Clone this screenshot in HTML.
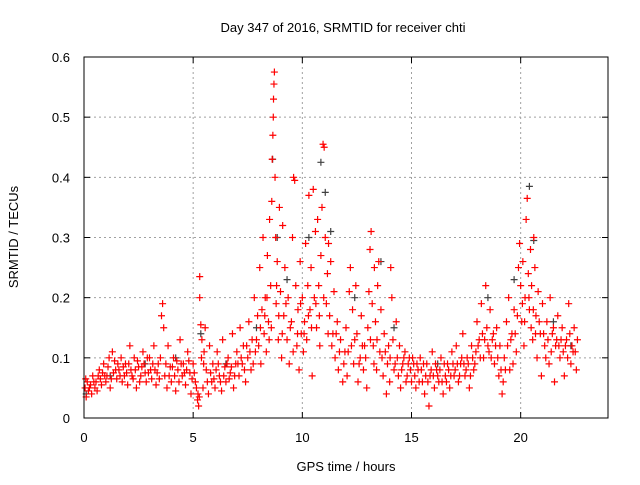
<!DOCTYPE html>
<html><head><meta charset="utf-8"><style>
body{margin:0;background:#fff}
svg text{font-family:"Liberation Sans",sans-serif;font-size:13px;fill:#000}
</style></head><body>
<svg id="chart" width="640" height="480" xmlns="http://www.w3.org/2000/svg">
<rect width="640" height="480" fill="#fff"/>
<g id="grid"></g>
<g id="marks"></g>
<rect x="84" y="57" width="524" height="361" fill="none" stroke="#000" stroke-width="1"/>
<g id="axes"></g>
<text x="343" y="32" text-anchor="middle">Day 347 of 2016, SRMTID for receiver chti</text>
<text x="346" y="471" text-anchor="middle">GPS time / hours</text>
<text x="0" y="0" text-anchor="middle" transform="translate(18,237) rotate(-90)">SRMTID / TECUs</text>
</svg>
<script>
const xTicks=[0,5,10,15,20];
const yTicks=[0,0.1,0.2,0.3,0.4,0.5,0.6];
const yTickLabels=["0","0.1","0.2","0.3","0.4","0.5","0.6"];
const redData=[[0.05,.05],[0.1,.035],[0.15,.06],[0.2,.045],[0.3,.055],[0.35,.04],[0.4,.07],[0.5,.05],[0.55,.06],[0.6,.045],[0.7,.08],[0.75,.065],[0.8,.055],[0.9,.09],[0.95,.07],
[1.0,.06],[1.1,.085],[1.2,.05],[1.3,.11],[1.35,.075],[1.4,.095],[1.5,.065],[1.6,.08],[1.7,.1],[1.75,.06],[1.85,.07],[1.9,.09],[2.0,.055],[2.1,.12],[2.15,.08],[2.25,.065],[2.3,.1],[2.4,.05],[2.5,.085],[2.6,.07],[2.7,.11],[2.75,.09],[2.85,.06],[2.95,.075],
[3.0,.1],[3.1,.065],[3.2,.12],[3.25,.08],[3.3,.055],[3.4,.09],[3.5,.1],[3.55,.17],[3.6,.19],[3.65,.15],[3.7,.07],[3.8,.05],[3.85,.12],[3.95,.085],[4.0,.06],[4.1,.1],[4.2,.045],[4.3,.08],[4.4,.13],[4.5,.07],[4.55,.09],[4.65,.055],[4.75,.11],[4.85,.075],[4.9,.04],[5.0,.09],[5.1,.06],
[5.2,.03],[5.25,.02],[5.3,.235],[5.3,.2],[5.35,.155],[5.4,.13],[5.45,.05],[5.5,.11],[5.55,.15],[5.6,.08],[5.7,.04],[5.75,.12],[5.85,.06],[5.9,.09],[6.0,.05],[6.1,.11],[6.2,.07],[6.3,.045],[6.35,.13],[6.45,.085],[6.5,.06],[6.6,.1],[6.7,.075],[6.8,.14],[6.85,.05],[6.95,.09],
[7.0,.11],[7.1,.07],[7.15,.15],[7.25,.09],[7.3,.12],[7.4,.06],[7.5,.1],[7.55,.16],[7.65,.08],[7.7,.13],[7.8,.2],[7.85,.11],[7.95,.17],
[8.0,.12],[8.05,.25],[8.1,.09],[8.15,.18],[8.2,.3],[8.25,.14],[8.3,.2],[8.35,.11],[8.4,.27],[8.45,.16],[8.5,.33],[8.55,.22],[8.6,.36],[8.62,.43],[8.65,.47],[8.67,.5],[8.68,.53],[8.7,.555],[8.72,.575],[8.75,.4],[8.78,.3],[8.8,.19],[8.85,.26],[8.9,.13],[8.95,.35],[9.0,.21],[9.05,.1],[9.1,.32],[9.15,.17],[9.2,.25],[9.3,.13],[9.35,.2],[9.4,.09],[9.5,.16],[9.55,.3],[9.6,.4],[9.65,.395],[9.7,.22],[9.75,.12],[9.8,.18],[9.85,.08],[9.9,.26],[9.95,.14],
[10.0,.2],[10.05,.11],[10.1,.16],[10.15,.29],[10.2,.13],[10.25,.22],[10.3,.37],[10.35,.18],[10.4,.25],[10.45,.07],[10.5,.38],[10.55,.2],[10.6,.31],[10.65,.15],[10.7,.33],[10.75,.22],[10.8,.12],[10.85,.27],[10.9,.35],[10.95,.455],[11.0,.45],[11.05,.3],[11.1,.19],[11.15,.24],[11.2,.29],[11.25,.17],[11.3,.26],[11.4,.14],[11.45,.21],[11.5,.1],[11.6,.16],[11.65,.08],[11.75,.13],[11.85,.06],[11.95,.11],
[12.0,.15],[12.05,.07],[12.15,.21],[12.2,.25],[12.25,.12],[12.3,.18],[12.35,.09],[12.45,.22],[12.5,.14],[12.55,.06],[12.65,.1],[12.7,.17],[12.8,.08],[12.85,.12],[12.95,.05],[13.0,.15],[13.05,.21],[13.1,.28],[13.15,.31],[13.2,.19],[13.25,.12],[13.3,.25],[13.35,.16],[13.4,.08],[13.45,.22],[13.5,.26],[13.55,.11],[13.6,.18],[13.7,.07],[13.75,.14],[13.85,.04],[13.9,.09],[13.95,.12],
[14.0,.06],[14.05,.25],[14.1,.2],[14.15,.13],[14.2,.08],[14.3,.16],[14.35,.1],[14.45,.12],[14.5,.05],[14.6,.09],[14.7,.11],[14.8,.07],[14.9,.1],[15.0,.06],[15.1,.09],[15.2,.05],[15.3,.08],[15.4,.1],[15.5,.06],[15.6,.04],[15.7,.09],[15.8,.02],[15.85,.07],[15.95,.11],[16.05,.05],[16.15,.08],[16.25,.06],[16.35,.1],[16.45,.04],[16.55,.07],[16.65,.09],[16.75,.05],[16.85,.11],[16.95,.07],
[17.05,.12],[17.15,.06],[17.25,.09],[17.35,.14],[17.45,.07],[17.55,.1],[17.65,.05],[17.75,.12],[17.85,.08],[17.95,.11],[18.0,.16],[18.1,.13],[18.2,.19],[18.3,.1],[18.4,.22],[18.45,.15],[18.55,.11],[18.6,.18],[18.7,.13],[18.8,.09],[18.9,.15],[19.0,.07],[19.05,.12],[19.15,.04],[19.25,.1],[19.35,.16],[19.45,.2],[19.5,.08],[19.6,.14],[19.7,.18],[19.8,.11],[19.9,.25],[19.95,.29],
[20.0,.22],[20.05,.16],[20.1,.26],[20.15,.12],[20.2,.2],[20.25,.33],[20.3,.365],[20.35,.24],[20.4,.18],[20.45,.28],[20.5,.22],[20.55,.13],[20.6,.3],[20.65,.25],[20.7,.17],[20.75,.1],[20.8,.21],[20.9,.14],[20.95,.07],[21.0,.19],[21.1,.12],[21.2,.16],[21.3,.09],[21.35,.2],[21.45,.14],[21.55,.06],[21.6,.12],[21.7,.17],[21.8,.1],[21.9,.15],[22.0,.07],[22.1,.13],[22.2,.19],[22.3,.09],[22.4,.11],[22.45,.15],[22.55,.08],[22.6,.13]];
const redExtra=[[0.08,.065],[0.25,.05],[0.45,.06],[0.65,.07],[0.85,.075],[1.05,.07],[1.15,.1],[1.25,.065],[1.45,.08],[1.55,.09],[1.65,.07],[1.8,.085],[1.95,.075],[2.05,.09],[2.2,.07],[2.35,.08],[2.45,.095],[2.55,.06],[2.65,.085],[2.8,.075],[2.9,.1],
[3.05,.08],[3.15,.09],[3.35,.075],[3.45,.065],[3.75,.09],[3.9,.07],[4.05,.085],[4.15,.07],[4.25,.095],[4.35,.06],[4.45,.09],[4.6,.075],[4.7,.08],[4.8,.095],[4.95,.065],[5.05,.075],[5.15,.05],[5.22,.04],[5.28,.035],[5.38,.1],[5.48,.09],[5.65,.06],[5.8,.075],[5.95,.065],[6.05,.08],[6.15,.09],[6.25,.06],[6.4,.07],[6.55,.09],[6.65,.065],[6.75,.085],[6.9,.07],
[7.05,.09],[7.2,.1],[7.35,.08],[7.45,.12],[7.6,.11],[7.75,.09],[7.9,.13],[8.08,.15],[8.28,.17],[8.38,.2],[8.48,.13],[8.58,.15],[8.82,.22],[8.92,.17],[9.08,.14],[9.25,.19],[9.45,.15],[9.58,.11],[9.78,.14],[9.92,.19],[10.08,.14],[10.28,.17],[10.42,.15],[10.62,.19],[10.78,.17],[10.98,.2],[11.18,.14],[11.35,.12],[11.55,.14],[11.7,.11],[11.9,.09],
[12.1,.11],[12.4,.13],[12.6,.09],[12.75,.12],[12.9,.1],[13.12,.13],[13.28,.09],[13.42,.13],[13.65,.1],[13.8,.11],[14.02,.1],[14.25,.09],[14.4,.07],[14.55,.08],[14.65,.1],[14.75,.06],[14.85,.09],[14.95,.08],[15.05,.1],[15.15,.07],[15.25,.09],[15.35,.06],[15.45,.08],[15.55,.09],[15.65,.07],[15.75,.06],[15.9,.08],[16.0,.07],[16.1,.09],[16.2,.07],[16.3,.08],[16.4,.06],[16.5,.09],[16.6,.06],[16.7,.08],[16.8,.07],[16.9,.09],
[17.0,.08],[17.1,.09],[17.2,.07],[17.3,.1],[17.4,.09],[17.5,.08],[17.6,.09],[17.7,.07],[17.8,.1],[17.9,.09],[18.05,.12],[18.15,.1],[18.25,.14],[18.35,.13],[18.5,.12],[18.65,.1],[18.75,.14],[18.85,.12],[18.95,.1],[19.1,.08],[19.2,.06],[19.3,.08],[19.4,.12],[19.55,.13],[19.65,.09],[19.75,.14],[19.85,.17],[20.08,.19],[20.18,.16],[20.38,.2],[20.48,.15],[20.58,.18],[20.68,.14],[20.85,.16],[21.05,.14],[21.15,.1],[21.25,.13],[21.4,.11],[21.5,.15],[21.65,.13],[21.75,.12],[21.85,.13],[21.95,.11],[22.05,.12],[22.15,.1],[22.25,.14],[22.35,.12],[22.5,.11]];
const grayData=[[0.1,.04],[1.2,.07],[2.8,.09],[4.2,.1],[5.35,.14],[6.5,.09],[7.9,.15],[8.64,.43],[8.85,.3],[9.3,.23],[10.3,.3],[10.85,.425],[11.05,.375],[11.3,.31],[12.4,.2],[13.6,.26],[14.2,.15],[16.2,.09],[18.5,.2],[19.7,.23],[20.4,.385],[20.6,.295],[21.5,.16],[22.3,.12]];
const X0=84,X1=608,Y0=418,Y1=57,XMAX=24,YMAX=0.6;
function sx(v){return X0+(X1-X0)*v/XMAX;}
function sy(v){return Y0-(Y0-Y1)*v/YMAX;}
const NS="http://www.w3.org/2000/svg";
const grid=document.getElementById('grid'),axes=document.getElementById('axes'),marks=document.getElementById('marks');
function mk(tag,attrs,parent){const e=document.createElementNS(NS,tag);for(const k in attrs)e.setAttribute(k,attrs[k]);parent.appendChild(e);return e;}
xTicks.forEach((t,i)=>{
 const x=sx(t);
 if(t>0){const g=mk('line',{x1:x,x2:x,y1:Y1,y2:Y0,stroke:'#a0a0a0','stroke-dasharray':'2,3'},grid);
 
 }
 mk('line',{x1:x,x2:x,y1:Y0,y2:Y0-6,stroke:'#000'},axes);
 mk('line',{x1:x,x2:x,y1:Y1,y2:Y1+6,stroke:'#000'},axes);
 const tx=mk('text',{x:x,y:Y0+24,'text-anchor':'middle'},axes);tx.textContent=String(t);
 
 
});
yTicks.forEach((t,i)=>{
 const y=sy(t);
 if(t>0&&t<YMAX){const g=mk('line',{x1:X0,x2:X1,y1:y,y2:y,stroke:'#a0a0a0','stroke-dasharray':'2,3'},grid);
 
 }
 mk('line',{x1:X0,x2:X0+6,y1:y,y2:y,stroke:'#000'},axes);
 mk('line',{x1:X1,x2:X1-6,y1:y,y2:y,stroke:'#000'},axes);
 const tx=mk('text',{x:X0-14,y:y+5,'text-anchor':'end'},axes);tx.textContent=yTickLabels[i];
 
 
});
function plus(d,color,name){
 const x=sx(d[0]),y=sy(d[1]);
 const p=mk('path',{d:`M${x-3.5},${y}h7M${x},${y-3.5}v7`,stroke:color,'stroke-width':1.2,fill:'none'},marks);
 
 
}
grayData.forEach(d=>plus(d,'#404040','gray-point'));
redData.forEach(d=>plus(d,'#ff0000','red-point'));
redExtra.forEach(d=>plus(d,'#ff0000','red-point'));
</script>
</body></html>
